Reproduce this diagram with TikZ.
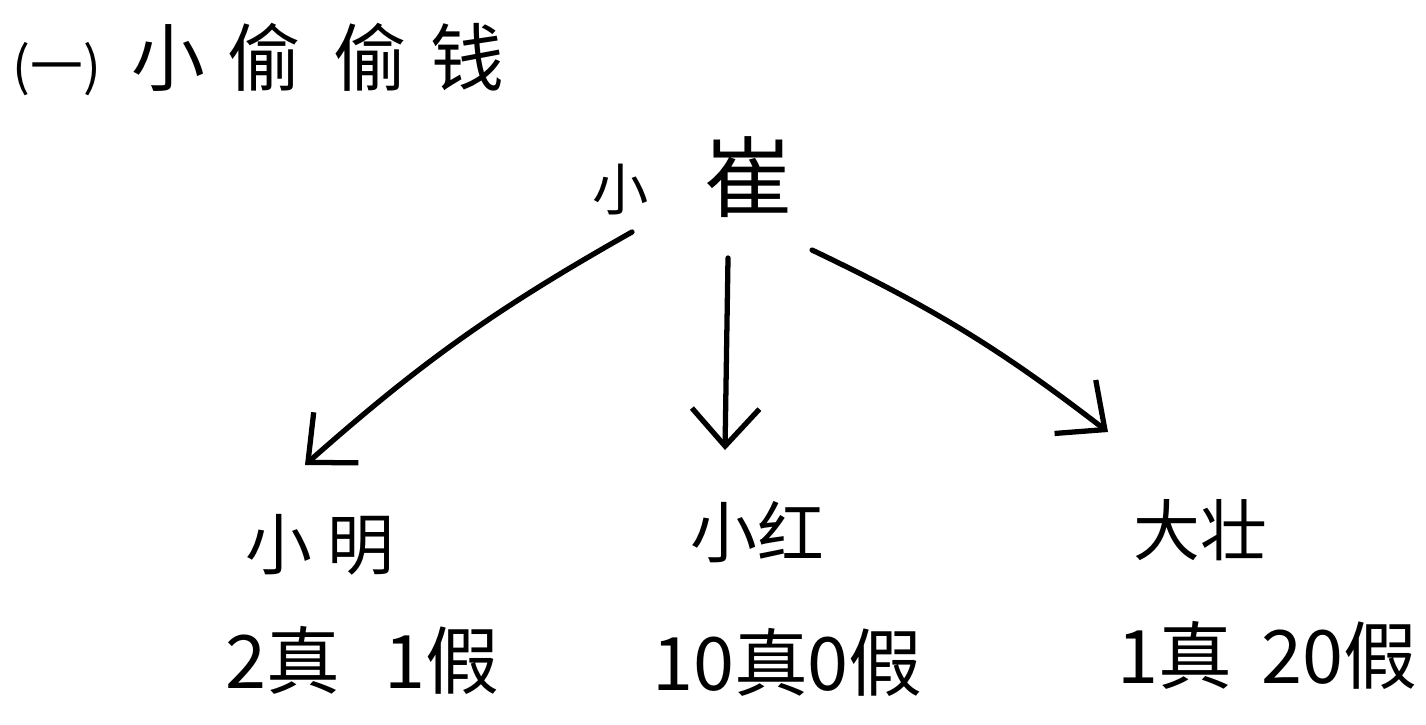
\documentclass[tikz,border=0pt]{standalone}
\usepackage{fontspec}
\setmainfont{Noto Sans CJK SC}
\usetikzlibrary{arrows.meta,calc}
\tikzset{
  lbl/.style={inner sep=0pt, font=\fontsize{38}{40}\selectfont},
  cnt/.style={inner sep=0pt, font=\fontsize{42}{44}\selectfont},
  arr/.style={line width=3pt, line cap=round, line join=round,
    -{Straight Barb[length=0.75cm,width=1.35cm,line width=3pt]}}
}
\begin{document}
\begin{tikzpicture}
\useasboundingbox (0,0) rectangle (28.52,-14.48);
% title
\node[inner sep=0pt, anchor=west] (title) at (0.25,-1.2)
  {{\fontsize{30}{32}\selectfont (一)}\hspace{0.6cm}{\fontsize{42}{44}\selectfont 小\hspace{0.45cm}偷\hspace{0.65cm}偷\hspace{0.45cm}钱}};
% top node
\node[inner sep=0pt] (top) at (13.85,-3.55)
  {{\fontsize{32}{34}\selectfont 小}\hspace{1.1cm}{\fontsize{50}{52}\selectfont 崔}};
% names
\node[lbl] (xm) at (6.4,-10.9) {小\hspace{0.3cm}明};
\node[lbl] (xh) at (15.15,-10.65) {小红};
\node[lbl] (dz) at (24.0,-10.6) {大壮};
% counts
\node[cnt] (cm) at (7.25,-13.2) {2真\hspace{0.9cm}1假};
\node[cnt] (ch) at (15.75,-13.25) {10真0假};
\node[cnt] (cd) at (25.35,-13.1) {1真\hspace{0.6cm}20假};
% arrows
\draw[arr] ($(top)+(-1.21,-1.09)$) to[bend right=6] ($(xm)+(-0.3,1.6)$);
\draw[arr] ($(top)+(0.71,-1.61)$) to ($(xh)+(-0.65,1.65)$);
\draw[arr] ($(top)+(2.39,-1.45)$) to[bend left=6] ($(dz)+(-1.84,1.96)$);
\end{tikzpicture}
\end{document}
